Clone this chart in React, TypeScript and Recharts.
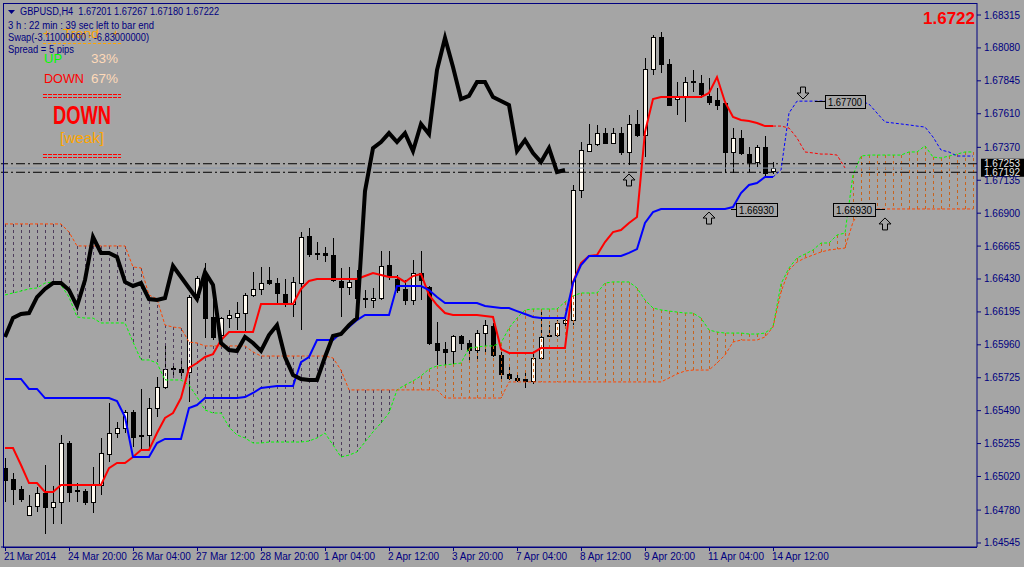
import React from 'react';
import { ComposedChart, XAxis, YAxis, Bar, Line, ReferenceLine, ReferenceDot } from 'recharts';

const W = 1024;
const H = 567;
const BG = '#A5A5A5';
const NAVY = '#000080';
const FONT = '"Liberation Sans", Arial, sans-serif';

// GBPUSD H4 candles, bar 0 = 21 Mar 2014, bar 96 = 14 Apr 12:00
const openP = [
  1.6508, 1.65002, 1.64931, 1.64745, 1.64809, 1.64902, 1.64802, 1.64838, 1.65259, 1.64923,
  1.64916, 1.64838, 1.64959, 1.6518, 1.6533, 1.65366, 1.6548, 1.65309, 1.65316, 1.65509,
  1.65659, 1.65787, 1.65787, 1.65766, 1.66301, 1.66459, 1.66159, 1.6603, 1.66151, 1.66159,
  1.66187, 1.66316, 1.66359, 1.66423, 1.66401, 1.66323, 1.66251, 1.66401, 1.66737, 1.66616,
  1.66616, 1.66601, 1.66416, 1.66373, 1.66423, 1.66294, 1.6628, 1.66294, 1.6653, 1.6643,
  1.66359, 1.6628, 1.66473, 1.66373, 1.65973, 1.6593, 1.65916, 1.66023, 1.65973, 1.65923,
  1.66044, 1.66094, 1.65887, 1.65752, 1.65723, 1.65716, 1.65702, 1.65866, 1.66023, 1.6603,
  1.66116, 1.66137, 1.67065, 1.67344, 1.67394, 1.67472, 1.67401, 1.67472, 1.67337, 1.67537,
  1.67458, 1.67929, 1.68158, 1.67965, 1.67715, 1.67737, 1.67844, 1.67829, 1.67737, 1.67708,
  1.67687, 1.67337, 1.67437, 1.67322, 1.67265, 1.67372, 1.67201,
];
const highP = [
  1.65152, 1.65045, 1.64952, 1.64888, 1.64945, 1.65102, 1.64952, 1.65316, 1.65273, 1.64973,
  1.64931, 1.65088, 1.65295, 1.65545, 1.65409, 1.65495, 1.65495, 1.65645, 1.6558, 1.6573,
  1.65973, 1.65816, 1.65859, 1.66316, 1.66451, 1.66544, 1.6628, 1.66159, 1.66209, 1.66266,
  1.6633, 1.6648, 1.66516, 1.66516, 1.66437, 1.6643, 1.66444, 1.66765, 1.66794, 1.66694,
  1.66658, 1.66723, 1.66509, 1.66516, 1.66494, 1.66351, 1.66366, 1.6663, 1.6663, 1.66459,
  1.66423, 1.66566, 1.6663, 1.6638, 1.66123, 1.6598, 1.6603, 1.6603, 1.65994, 1.66066,
  1.66137, 1.66116, 1.65937, 1.65802, 1.65759, 1.65759, 1.65902, 1.66209, 1.66101, 1.66137,
  1.66151, 1.67101, 1.67408, 1.67537, 1.6753, 1.67508, 1.67508, 1.67515, 1.67601, 1.67637,
  1.68008, 1.68172, 1.68194, 1.68001, 1.67837, 1.67872, 1.67922, 1.67887, 1.67865, 1.67794,
  1.67694, 1.67508, 1.67494, 1.67372, 1.67387, 1.67451, 1.67267,
];
const lowP = [
  1.64838, 1.64816, 1.64838, 1.64738, 1.64766, 1.64609, 1.64681, 1.64681, 1.64838, 1.64838,
  1.64816, 1.64759, 1.64888, 1.65123, 1.65295, 1.6533, 1.6523, 1.65209, 1.65223, 1.65445,
  1.65645, 1.65723, 1.65723, 1.65552, 1.6628, 1.66009, 1.65994, 1.65944, 1.6608, 1.66066,
  1.66051, 1.66301, 1.66316, 1.66387, 1.66259, 1.6623, 1.66159, 1.66066, 1.66587, 1.66566,
  1.66551, 1.66409, 1.66159, 1.66316, 1.66187, 1.66223, 1.66223, 1.6628, 1.66423, 1.6633,
  1.66244, 1.66244, 1.6628, 1.65959, 1.65816, 1.65816, 1.65816, 1.65923, 1.65852, 1.65852,
  1.65902, 1.65873, 1.65709, 1.65709, 1.65695, 1.65652, 1.6568, 1.65852, 1.66016, 1.66016,
  1.66094, 1.66101, 1.67008, 1.67337, 1.6738, 1.67394, 1.67394, 1.67315, 1.67244, 1.67444,
  1.67301, 1.67887, 1.67901, 1.67665, 1.67601, 1.67551, 1.67765, 1.67722, 1.67672, 1.67637,
  1.67187, 1.67187, 1.67315, 1.67194, 1.6723, 1.67158, 1.6718,
];
const closeP = [
  1.64995, 1.64931, 1.64859, 1.64809, 1.64902, 1.64802, 1.64838, 1.65259, 1.64909, 1.64916,
  1.64838, 1.64959, 1.65188, 1.6533, 1.65366, 1.6548, 1.65302, 1.65316, 1.65509, 1.65659,
  1.65787, 1.65795, 1.65766, 1.66301, 1.66437, 1.66151, 1.66016, 1.66151, 1.66173, 1.66187,
  1.66316, 1.66359, 1.66401, 1.66401, 1.6633, 1.66251, 1.66409, 1.6673, 1.66608, 1.66608,
  1.66601, 1.66423, 1.66373, 1.66409, 1.66294, 1.66287, 1.66294, 1.66523, 1.66459, 1.66351,
  1.6628, 1.66473, 1.66423, 1.65973, 1.65923, 1.65909, 1.66023, 1.65973, 1.65923, 1.66044,
  1.66101, 1.65887, 1.65752, 1.65723, 1.65709, 1.65702, 1.65866, 1.66016, 1.6603, 1.66116,
  1.66137, 1.67065, 1.67351, 1.67394, 1.67472, 1.67401, 1.67472, 1.67337, 1.67537, 1.67458,
  1.67929, 1.68158, 1.67965, 1.67672, 1.67737, 1.67837, 1.67837, 1.67751, 1.67694, 1.67672,
  1.67337, 1.67437, 1.6733, 1.67265, 1.67372, 1.67187, 1.67222,
];

// Ichimoku lines
const tenkan = [
  1.65223, 1.65223, 1.65102, 1.64973, 1.64973, 1.64909, 1.64909, 1.64959, 1.64959, 1.64959,
  1.64959, 1.64959, 1.64959, 1.6508, 1.65116, 1.65116, 1.65159, 1.65209, 1.65209, 1.6533,
  1.65438, 1.65473, 1.6558, 1.65795, 1.6583, 1.65873, 1.65894, 1.65994, 1.66051, 1.66051,
  1.66051, 1.66051, 1.66251, 1.66251, 1.66251, 1.66251, 1.66251, 1.66359, 1.66416, 1.6643,
  1.6643, 1.6643, 1.6643, 1.6643, 1.6643, 1.66451, 1.66473, 1.66459, 1.66444, 1.66444,
  1.66409, 1.66451, 1.66466, 1.66316, 1.66244, 1.66187, 1.66173, 1.66173, 1.66173, 1.66173,
  1.66166, 1.66159, 1.6593, 1.65902, 1.65902, 1.65902, 1.65902, 1.65937, 1.65937, 1.65937,
  1.65937, 1.66409, 1.66544, 1.66594, 1.66601, 1.66694, 1.66765, 1.6678, 1.6683, 1.66873,
  1.6748, 1.67715, 1.67729, 1.67729, 1.67729, 1.67729, 1.67729, 1.67729, 1.67758, 1.67872,
  1.67694, 1.67587, 1.67565, 1.67558, 1.67544, 1.67522, 1.67522,
];
const kijun = [
  1.65716, 1.65716, 1.65716, 1.65645, 1.65645, 1.6558, 1.6558, 1.6558, 1.6558, 1.6558,
  1.6558, 1.6558, 1.6558, 1.6558, 1.65559, 1.65445, 1.65159, 1.65159, 1.65159, 1.65259,
  1.65288, 1.65288, 1.65288, 1.65509, 1.6553, 1.6558, 1.6558, 1.6558, 1.6558, 1.6558,
  1.65587, 1.65616, 1.65652, 1.65659, 1.65666, 1.65666, 1.65666, 1.65837, 1.65873, 1.65994,
  1.65994, 1.65994, 1.66044, 1.66087, 1.66137, 1.66173, 1.66173, 1.66173, 1.66173, 1.6638,
  1.6638, 1.6638, 1.6638, 1.66351, 1.66301, 1.66259, 1.66259, 1.66259, 1.66259, 1.66259,
  1.66237, 1.6623, 1.66223, 1.66223, 1.66201, 1.6618, 1.66159, 1.66151, 1.66151, 1.66151,
  1.66151, 1.66401, 1.6653, 1.66594, 1.66594, 1.66594, 1.66594, 1.66594, 1.66616, 1.66644,
  1.6683, 1.66908, 1.6693, 1.6693, 1.6693, 1.6693, 1.6693, 1.6693, 1.6693, 1.6693,
  1.6693, 1.66944, 1.67044, 1.67101, 1.67115, 1.67158, 1.67158,
];
const chikou = [
  1.66016, 1.66151, 1.6618, 1.66187, 1.66301, 1.66359, 1.66401, 1.66401, 1.66351, 1.66237,
  1.66423, 1.6673, 1.66616, 1.66616, 1.66587, 1.66409, 1.6638, 1.66401, 1.66287, 1.6628,
  1.66294, 1.66523, 1.66444, 1.66366, 1.66287, 1.6648, 1.66387, 1.65973, 1.65923, 1.65916,
  1.66016, 1.65973, 1.65916, 1.6603, 1.66101, 1.65873, 1.65745, 1.65716, 1.65709, 1.65709,
  1.65873, 1.66023, 1.66037, 1.66101, 1.66151, 1.67058, 1.67365, 1.67408, 1.67472, 1.67408,
  1.67472, 1.67344, 1.67537, 1.67465, 1.67922, 1.68151, 1.67944, 1.67715, 1.67737, 1.67837,
  1.67837, 1.67729, 1.67701, 1.67672, 1.67344, 1.67422, 1.6733, 1.67265, 1.67365, 1.67194,
  1.67208,
];
const spanA = [
  1.66316, 1.6633, 1.66344, 1.66359, 1.66366, 1.66401, 1.66409, 1.66387, 1.66301, 1.66159,
  1.66151, 1.66151, 1.66116, 1.66116, 1.66116, 1.66116, 1.6598, 1.65852, 1.65852, 1.6583,
  1.65709, 1.65709, 1.65709, 1.65673, 1.65587, 1.65495, 1.65473, 1.65473, 1.65373, 1.65316,
  1.65295, 1.65259, 1.65259, 1.65266, 1.65266, 1.65266, 1.65266, 1.65266, 1.65273, 1.65295,
  1.6533, 1.65245, 1.65159, 1.65173, 1.65195, 1.65266, 1.65338, 1.65402, 1.65473, 1.65638,
  1.65673, 1.65702, 1.65738, 1.65787, 1.65809, 1.65816, 1.65823, 1.6583, 1.65937, 1.65944,
  1.65952, 1.65952, 1.65973, 1.6608, 1.66151, 1.66209, 1.66216, 1.66216, 1.66216, 1.66216,
  1.66266, 1.66309, 1.6633, 1.6633, 1.6633, 1.66401, 1.66409, 1.66409, 1.66409, 1.66366,
  1.6628, 1.66223, 1.66209, 1.66201, 1.66194, 1.66187, 1.66187, 1.66151, 1.66066, 1.66051,
  1.66044, 1.66044, 1.66044, 1.66037, 1.66037, 1.66044, 1.66087, 1.66395, 1.66509, 1.6658,
  1.66608, 1.66637, 1.66687, 1.66687, 1.66744, 1.66758, 1.67172, 1.67308, 1.67315, 1.67315,
  1.67315, 1.67315, 1.67315, 1.67337, 1.67337, 1.6738, 1.67301, 1.67294, 1.67308, 1.67322,
  1.67337, 1.67337,
];
const spanB = [
  1.66823, 1.66823, 1.66823, 1.66823, 1.66823, 1.66823, 1.66823, 1.66823, 1.66765, 1.66666,
  1.66666, 1.66666, 1.66666, 1.66666, 1.66666, 1.66666, 1.66516, 1.66509, 1.66316, 1.66287,
  1.66101, 1.66087, 1.6608, 1.6598, 1.65973, 1.65952, 1.65952, 1.65952, 1.65952, 1.65952,
  1.65952, 1.65909, 1.6588, 1.6588, 1.6588, 1.6588, 1.6588, 1.6588, 1.6588, 1.6588,
  1.6588, 1.65866, 1.6578, 1.65638, 1.65638, 1.65638, 1.65638, 1.65638, 1.65638, 1.65638,
  1.65638, 1.65638, 1.65638, 1.65638, 1.65638, 1.6558, 1.6558, 1.6558, 1.6558, 1.6558,
  1.6558, 1.6558, 1.6558, 1.65695, 1.65695, 1.65695, 1.65695, 1.65695, 1.65695, 1.65695,
  1.65695, 1.65695, 1.65695, 1.65695, 1.65695, 1.65695, 1.65695, 1.65695, 1.65695, 1.65695,
  1.65695, 1.65695, 1.65695, 1.65723, 1.65752, 1.65773, 1.6578, 1.6578, 1.6578, 1.6583,
  1.65887, 1.6598, 1.65994, 1.65994, 1.65994, 1.66016, 1.66087, 1.66337, 1.66494, 1.66551,
  1.6658, 1.66601, 1.66623, 1.66637, 1.66644, 1.66651, 1.66837, 1.66923, 1.6693, 1.6693,
  1.6693, 1.6693, 1.6693, 1.6693, 1.6693, 1.6693, 1.6693, 1.6693, 1.6693, 1.6693,
  1.6693, 1.6693,
];
// dotted projections drawn to the right of the last bar
const AHEAD_FROM = 96;
const kijunAhead = [
  1.67158, 1.67208, 1.67615, 1.677, 1.677, 1.677, 1.677, 1.677, 1.677, 1.677,
  1.677, 1.677, 1.67679, 1.67615, 1.67551, 1.67544, 1.67537, 1.6753, 1.67522, 1.67515,
  1.67444, 1.67351, 1.67337, 1.67308, 1.67308, 1.67308,
];
const tenkanAhead = [1.67522, 1.67522, 1.67508, 1.67437, 1.67337, 1.6733, 1.67322, 1.67322, 1.67315, 1.67223];

const timeTickIdx = [0, 8, 16, 24, 32, 40, 48, 56, 64, 72, 80, 88, 96];
const timeTickLabels = [
  '21 Mar 2014', '24 Mar 20:00', '26 Mar 04:00', '27 Mar 12:00', '28 Mar 20:00', '1 Apr 04:00',
  '2 Apr 12:00', '3 Apr 20:00', '7 Apr 04:00', '8 Apr 12:00', '9 Apr 20:00', '11 Apr 04:00', '14 Apr 12:00',
];
const priceTicks = [
  1.68315, 1.6808, 1.67845, 1.6761, 1.6737, 1.67135, 1.669, 1.66665, 1.6643,
  1.66195, 1.6596, 1.65725, 1.6549, 1.65255, 1.6502, 1.6478, 1.64545,
];
const PRICE_MIN = 1.645164;
const PRICE_MAX = 1.684007;

const rows = spanA.map((a, i) => {
  const b = spanB[i];
  const has = i < openP.length;
  const ka = i - AHEAD_FROM;
  return {
    i,
    o: has ? openP[i] : null,
    h: has ? highP[i] : null,
    l: has ? lowP[i] : null,
    c: has ? closeP[i] : null,
    range: has ? [lowP[i], highP[i]] : null,
    tenkan: has ? tenkan[i] : null,
    kijun: has ? kijun[i] : null,
    chikou: i < chikou.length ? chikou[i] : null,
    a,
    b,
    cloud: [Math.min(a, b), Math.max(a, b)],
    kAhead: ka >= 0 && ka < kijunAhead.length ? kijunAhead[ka] : null,
    tAhead: ka >= 0 && ka < tenkanAhead.length ? tenkanAhead[ka] : null,
  };
});

function Candle(props: any) {
  const { x, width, payload } = props;
  let { y, height } = props;
  if (!payload || payload.h == null || !height) return null;
  if (height < 0) { y += height; height = -height; }
  const cx = Math.floor(x + width / 2) + 0.5;
  const k = height / (payload.h - payload.l);
  const py = (v: number) => y + (payload.h - v) * k;
  const top = Math.round(py(Math.max(payload.o, payload.c))) + 0.5;
  const bot = Math.round(py(Math.min(payload.o, payload.c))) + 0.5;
  const bull = payload.c >= payload.o;
  return (
    <g shapeRendering="crispEdges">
      <line x1={cx} x2={cx} y1={Math.round(y)} y2={Math.round(y + height)} stroke="#000" />
      {bot - top < 1 ? (
        <line x1={cx - 2.5} x2={cx + 2.5} y1={top} y2={top} stroke="#000" />
      ) : (
        <rect x={cx - 2} y={top} width={4} height={bot - top} fill={bull ? '#FFFAF0' : '#000'} stroke="#000" />
      )}
    </g>
  );
}

function Hatch(props: any) {
  const { x, width, payload } = props;
  let { y, height } = props;
  if (!payload || !height) return null;
  if (height < 0) { y += height; height = -height; }
  const cx = Math.floor(x + width / 2) + 0.5;
  const col = payload.a >= payload.b ? '#C8641E' : '#4E3D5C';
  return <line x1={cx} x2={cx} y1={y} y2={y + height} stroke={col} strokeDasharray="3 3" shapeRendering="crispEdges" />;
}

function TimeTick(props: any) {
  const { x, payload } = props;
  const k = timeTickIdx.indexOf(payload.value);
  if (k < 0) return null;
  const tx = Math.floor(x) + 0.5;
  return (
    <g>
      <line x1={tx} x2={tx} y1={548} y2={551} stroke={NAVY} shapeRendering="crispEdges" />
      <text x={x - 1} y={560} fill={NAVY} fontSize={10} fontFamily={FONT} textLength={k === 0 ? 52 : undefined}>
        {timeTickLabels[k]}
      </text>
    </g>
  );
}

function PriceTick(props: any) {
  const { x, y, payload } = props;
  return (
    <text x={x + 1} y={y + 3.5} fill={NAVY} fontSize={10} fontFamily={FONT}>
      {Number(payload.value).toFixed(5)}
    </text>
  );
}

function AxisTag(props: any) {
  const vb = props.viewBox || {};
  const x0 = vb.x + vb.width + 4;
  const yy = vb.y;
  return (
    <g>
      <rect x={x0} y={yy - 5} width={W - x0} height={9.5} fill="#000" />
      <text x={x0 + 3} y={yy + 3.5} fill="#E6E6E6" fontSize={10} fontFamily={FONT}>{props.text}</text>
    </g>
  );
}

function arrowUp(p: any) {
  const { cx, cy } = p;
  const pts = [[0, 0], [6, 6], [2.5, 6], [2.5, 12], [-2.5, 12], [-2.5, 6], [-6, 6]]
    .map(([dx, dy]) => `${cx + dx},${cy + dy}`).join(' ');
  return <polygon points={pts} fill={BG} stroke="#000" strokeWidth={1} />;
}

function arrowDown(p: any) {
  const { cx, cy } = p;
  const pts = [[0, 0], [6, -6], [2.5, -6], [2.5, -12], [-2.5, -12], [-2.5, -6], [-6, -6]]
    .map(([dx, dy]) => `${cx - 2 + dx},${cy + dy}`).join(' ');
  return <polygon points={pts} fill={BG} stroke="#000" strokeWidth={1} />;
}

function priceBox(text: string, boxFrom: number, boxTo: number, linkFrom: number, linkTo: number) {
  return (p: any) => {
    const { cx, cy } = p;
    const yy = Math.round(cy) + 0.5;
    return (
      <g>
        <line x1={cx + linkFrom} x2={cx + linkTo} y1={yy} y2={yy} stroke="#000" />
        <rect x={Math.round(cx + boxFrom) + 0.5} y={yy - 6} width={boxTo - boxFrom} height={13} fill={BG} stroke="#000" />
        <text x={cx + boxFrom + 3} y={yy + 4} fontSize={11} fontFamily={FONT} fill="#000"
          textLength={boxTo - boxFrom - 6} lengthAdjust="spacingAndGlyphs">{text}</text>
      </g>
    );
  };
}

const Overlay = () => (
  <svg width={W} height={H} style={{ position: 'absolute', left: 0, top: 0, pointerEvents: 'none' }} fontFamily={FONT}>
    <line x1={3.5} x2={3.5} y1={3} y2={547} stroke={NAVY} />
    <line x1={3} x2={977} y1={3.5} y2={3.5} stroke={NAVY} />
    <line x1={3} x2={977} y1={547.5} y2={547.5} stroke={NAVY} />
    <polygon points="8,10 15,10 11.5,14" fill={NAVY} />
    <text x={20} y={15} fontSize={10} fill={NAVY} textLength={199} lengthAdjust="spacingAndGlyphs" style={{ whiteSpace: 'pre' }}>
      {'GBPUSD,H4  1.67201 1.67267 1.67180 1.67222'}
    </text>
    <text x={8} y={29} fontSize={10} fill={NAVY} textLength={146} lengthAdjust="spacingAndGlyphs">3 h : 22 min : 39 sec left to bar end</text>
    <text x={43} y={38} fontSize={13} fill="#FFA500">+</text>
    <text x={63} y={38} fontSize={13} fill="#FFA500" textLength={36} lengthAdjust="spacingAndGlyphs">Trend</text>
    <text x={112} y={38} fontSize={13} fill="#FFA500">+</text>
    <text x={8} y={41} fontSize={10} fill={NAVY} textLength={141} lengthAdjust="spacingAndGlyphs">Swap(-3.11000000 : -6.83000000)</text>
    <line x1={43} x2={121} y1={43.5} y2={43.5} stroke="#FFA500" strokeDasharray="3 2" />
    <text x={8} y={53} fontSize={10} fill={NAVY} textLength={66} lengthAdjust="spacingAndGlyphs">Spread = 5 pips</text>
    <text x={44} y={63} fontSize={13} fill="#00FF00">UP</text>
    <text x={91} y={63} fontSize={13} fill="#FFDAB9" textLength={27} lengthAdjust="spacingAndGlyphs">33%</text>
    <text x={44} y={83} fontSize={13} fill="#FF0000" textLength={40} lengthAdjust="spacingAndGlyphs">DOWN</text>
    <text x={91} y={83} fontSize={13} fill="#FFDAB9" textLength={27} lengthAdjust="spacingAndGlyphs">67%</text>
    <line x1={43} x2={121} y1={94.5} y2={94.5} stroke="#FF0000" strokeDasharray="4 1" />
    <line x1={43} x2={121} y1={97.5} y2={97.5} stroke="#FF0000" strokeDasharray="4 1" />
    <text x={53} y={124} fontSize={25} fontWeight="bold" fill="#FF0000" textLength={58} lengthAdjust="spacingAndGlyphs">DOWN</text>
    <text x={60} y={143} fontSize={14} fill="#FFA500" textLength={44} lengthAdjust="spacingAndGlyphs">[weak]</text>
    <line x1={43} x2={121} y1={154.5} y2={154.5} stroke="#FF0000" strokeDasharray="4 1" />
    <line x1={43} x2={121} y1={157.5} y2={157.5} stroke="#FF0000" strokeDasharray="4 1" />
    <text x={975} y={24} fontSize={17} fontWeight="bold" fill="#FF0000" textAnchor="end">1.6722</text>
  </svg>
);

export default function App() {
  return (
    <div style={{ position: 'absolute', left: 0, top: 0, width: W, height: H, background: BG, overflow: 'hidden' }}>
      <ComposedChart width={W} height={H} data={rows} margin={{ top: 3, right: 0, bottom: 0, left: 1 }} barGap={0} barCategoryGap={0}>
        <XAxis
          xAxisId="main" dataKey="i" type="category" orientation="bottom" ticks={timeTickIdx} interval={0} height={20}
          tickSize={4} tickLine={false} axisLine={{ stroke: NAVY }} tick={<TimeTick />}
        />
        <XAxis xAxisId="cloud" dataKey="i" type="category" orientation="top" height={0} hide />
        <YAxis
          orientation="right" type="number" width={47} domain={[PRICE_MIN, PRICE_MAX]} allowDataOverflow
          ticks={priceTicks} interval={0} tickSize={4} tickLine={{ stroke: NAVY }} axisLine={{ stroke: NAVY }}
          tick={<PriceTick />}
        />
        <Bar xAxisId="main" dataKey="range" barSize={5} shape={(p: any) => <Candle {...p} />} isAnimationActive={false} />
        <Bar xAxisId="cloud" dataKey="cloud" barSize={2} shape={(p: any) => <Hatch {...p} />} isAnimationActive={false} />
        <Line xAxisId="main" dataKey="a" stroke="#00FF00" strokeWidth={1} strokeDasharray="3 2" dot={false} activeDot={false} isAnimationActive={false} />
        <Line xAxisId="main" dataKey="b" stroke="#FF4500" strokeWidth={1} strokeDasharray="3 2" dot={false} activeDot={false} isAnimationActive={false} />
        <ReferenceLine xAxisId="main" y={1.67222} stroke="#8C9AAE" />
        <ReferenceLine xAxisId="main" y={1.67253} stroke="#000" strokeDasharray="9 3 2 3" label={<AxisTag text="1.67253" />} />
        <ReferenceLine xAxisId="main" y={1.67192} stroke="#000" strokeDasharray="9 3 2 3" label={<AxisTag text="1.67192" />} />
        <Line xAxisId="main" dataKey="tAhead" stroke="#FF0000" strokeWidth={1} strokeDasharray="3 2" dot={false} activeDot={false} isAnimationActive={false} />
        <Line xAxisId="main" dataKey="kAhead" stroke="#0000FF" strokeWidth={1} strokeDasharray="3 2" dot={false} activeDot={false} isAnimationActive={false} />
        <Line xAxisId="main" dataKey="tenkan" stroke="#FF0000" strokeWidth={2} dot={false} activeDot={false} isAnimationActive={false} />
        <Line xAxisId="main" dataKey="kijun" stroke="#0000FF" strokeWidth={2} dot={false} activeDot={false} isAnimationActive={false} />
        <Line xAxisId="main" dataKey="chikou" stroke="#000" strokeWidth={4} dot={false} activeDot={false} isAnimationActive={false} />
        <ReferenceDot xAxisId="main" x={78} y={1.6718} shape={arrowUp} />
        <ReferenceDot xAxisId="main" x={88} y={1.66908} shape={arrowUp} />
        <ReferenceDot xAxisId="main" x={110} y={1.66866} shape={arrowUp} />
        <ReferenceDot xAxisId="main" x={100} y={1.67715} shape={arrowDown} />
        <ReferenceDot xAxisId="main" x={103} y={1.677} shape={priceBox('1.67700', -4, 36, -14, -4)} />
        <ReferenceDot xAxisId="main" x={104} y={1.6693} shape={priceBox('1.66930', -4, 38, 38, 48)} />
        <ReferenceDot xAxisId="main" x={91} y={1.6693} shape={priceBox('1.66930', 3, 44, -2, 3)} />
      </ComposedChart>
      <Overlay />
    </div>
  );
}
